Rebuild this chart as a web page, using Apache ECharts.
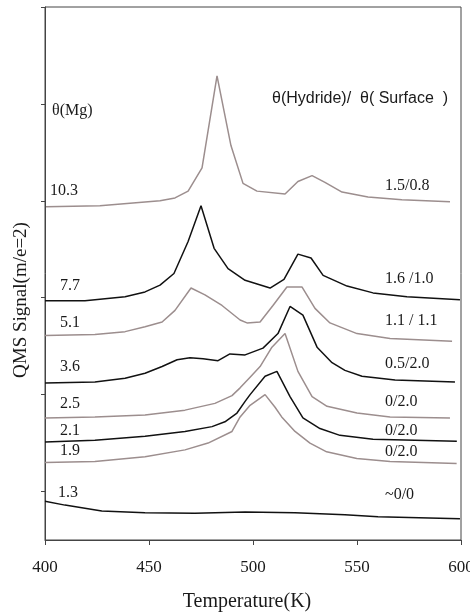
<!DOCTYPE html>
<html>
<head>
<meta charset="utf-8">
<script src="https://cdn.jsdelivr.net/npm/echarts@6/dist/echarts.min.js"></script>
<style>
  html, body { margin: 0; padding: 0; background: #fff; }
  #chart { width: 470px; height: 615px; }
</style>
</head>
<body>
<div id="chart"></div>
<script>
// Temperature axis ticks (K)
const temperatureTicks = [400, 450, 500, 550, 600];

// QMS m/e=2 desorption traces, [temperature K, stacked signal (a.u.)]
const traceMg10_3 = [[400.5,3.44],[426.4,3.45],[455.3,3.50],[462.5,3.53],[468.8,3.60],[475.5,3.84],[482.7,4.79],[489.4,4.07],[495.2,3.68],[501.9,3.60],[515.4,3.57],[521.6,3.70],[528.4,3.76],[534.6,3.69],[542.8,3.59],[555.3,3.54],[571.6,3.51],[594.7,3.49]];
const traceMg7_7 = [[400,2.47],[419.2,2.47],[438.5,2.51],[448.1,2.56],[455.3,2.63],[462,2.75],[468.8,3.08],[475,3.45],[481.3,3.01],[488,2.80],[496.2,2.68],[508.2,2.60],[514.9,2.69],[521.6,2.95],[527.9,2.91],[533.7,2.73],[545.2,2.62],[557.7,2.55],[574,2.51],[599.5,2.48]];
const traceMg5_1 = [[400,2.11],[424,2.12],[438.5,2.15],[448.1,2.20],[456.3,2.25],[462.5,2.37],[470.2,2.60],[476.9,2.53],[485.1,2.42],[493.8,2.27],[497.1,2.24],[503.4,2.25],[509.6,2.42],[516.3,2.61],[523.6,2.61],[529.8,2.39],[537,2.24],[550,2.13],[565.9,2.08],[595.7,2.05]];
const traceMg3_6 = [[400,1.62],[424,1.63],[438.5,1.67],[448.1,1.72],[456.3,1.79],[463.5,1.86],[469.7,1.88],[476,1.87],[483.2,1.85],[488.9,1.92],[496.2,1.91],[504.8,1.98],[512,2.13],[517.8,2.41],[524,2.32],[530.8,1.99],[538,1.83],[544.2,1.75],[552.4,1.69],[568.3,1.65],[597.1,1.63]];
const traceMg2_5 = [[400,1.26],[424,1.27],[448.1,1.29],[467.3,1.34],[481.7,1.41],[489.9,1.49],[493.8,1.57],[498.6,1.68],[503.4,1.79],[509.1,1.99],[515.4,2.13],[521.6,1.74],[528.4,1.48],[535.6,1.38],[550,1.31],[565.9,1.27],[594.7,1.26]];
const traceMg2_1 = [[400,1.01],[424,1.03],[448.1,1.07],[467.3,1.12],[480.3,1.17],[486.5,1.22],[492.3,1.31],[496.2,1.43],[498.6,1.50],[505.8,1.69],[511.5,1.74],[517.8,1.48],[524,1.26],[532.2,1.15],[541.8,1.08],[557.7,1.04],[598,1.02]];
const traceMg1_9 = [[400,0.80],[424,0.81],[448.1,0.86],[467.3,0.93],[478.4,1.00],[489.9,1.12],[493.8,1.27],[498.6,1.39],[505.8,1.50],[510.6,1.37],[513.8,1.27],[520.2,1.12],[527.4,1.00],[535.4,0.91],[549.9,0.84],[565.9,0.81],[597.9,0.79]];
const traceMg1_3 = [[400,0.40],[409.6,0.36],[427.3,0.30],[448.1,0.28],[472.1,0.275],[496.2,0.29],[520.2,0.28],[544.2,0.26],[560.1,0.24],[599.5,0.22]];

// Mg coverage for each trace (top to bottom) and hydride/surface coverage ratio
const mgCoverage = ['10.3', '7.7', '5.1', '3.6', '2.5', '2.1', '1.9', '1.3'];
const hydrideSurface = ['1.5/0.8', '1.6 /1.0', '1.1 / 1.1', '0.5/2.0', '0/2.0', '0/2.0', '0/2.0', '~0/0'];

const traces = [traceMg10_3, traceMg7_7, traceMg5_1, traceMg3_6, traceMg2_5, traceMg2_1, traceMg1_9, traceMg1_3];

const GRAY = '#9c8e8e';
const BLACK = '#111111';
const SERIF = '"Liberation Serif", "Times New Roman", serif';
const SANS = '"Liberation Sans", Arial, sans-serif';

// label placement (pixels): left coverage labels and right ratio labels
const leftLabelY = [192, 287, 324, 368, 405, 432, 452, 494];
const leftLabelX = [50, 60, 60, 60, 60, 60, 60, 58];
const rightLabelY = [187, 280, 322, 365, 403, 432, 453, 496];

const chart = echarts.init(document.getElementById('chart'), null, { renderer: 'canvas' });

const series = traces.map((d, i) => ({
  type: 'line',
  name: mgCoverage[i],
  data: d,
  symbol: 'none',
  smooth: false,
  silent: true,
  lineStyle: { width: 1.5, color: i % 2 === 0 ? GRAY : BLACK },
  z: 3
}));

const textEls = [];
mgCoverage.forEach((t, i) => {
  textEls.push({
    type: 'text', left: leftLabelX[i], top: leftLabelY[i] - 9,
    style: { text: t, font: '16px ' + SERIF, fill: '#1a1a1a' }
  });
});
hydrideSurface.forEach((t, i) => {
  textEls.push({
    type: 'text', left: 385, top: rightLabelY[i] - 9,
    style: { text: t, font: '16px ' + SERIF, fill: '#1a1a1a' }
  });
});
textEls.push({
  type: 'text', left: 52, top: 103,
  style: { text: 'θ(Mg)', font: '16px ' + SERIF, fill: '#1a1a1a' }
});
textEls.push({
  type: 'text', left: 272, top: 91,
  style: { text: 'θ(Hydride)/  θ( Surface  )', font: '16px ' + SANS, fill: '#1a1a1a' }
});
textEls.push({
  type: 'text', x: 247, y: 602,
  style: { text: 'Temperature(K)', font: '20px ' + SERIF, fill: '#1a1a1a', align: 'center', verticalAlign: 'middle' }
});
textEls.push({
  type: 'text', x: 21, y: 300, rotation: Math.PI / 2,
  style: { text: 'QMS Signal(m/e=2)', font: '19px ' + SERIF, fill: '#1a1a1a', align: 'center', verticalAlign: 'middle' }
});

chart.setOption({
  animation: false,
  backgroundColor: '#ffffff',
  grid: {
    left: 45, right: 9, top: 7, bottom: 75,
    outerBoundsMode: 'none',
    show: true, borderColor: '#444', borderWidth: 1
  },
  xAxis: {
    type: 'value', min: temperatureTicks[0], max: temperatureTicks[temperatureTicks.length - 1], interval: 50,
    axisLine: { lineStyle: { color: '#444', width: 1 } },
    axisTick: { inside: false, length: 5, lineStyle: { color: '#444' } },
    axisLabel: { fontFamily: SERIF, fontSize: 17, color: '#1a1a1a', margin: 19, hideOverlap: false },
    splitLine: { show: false }
  },
  yAxis: {
    type: 'value', min: 0, max: 5.5,
    axisLine: { show: true, lineStyle: { color: '#444', width: 1 } },
    axisTick: { show: true, inside: false, length: 4, customValues: [0.5, 1.5, 2.5, 3.5, 4.5, 5.5], lineStyle: { color: '#444' } },
    axisLabel: { show: false },
    splitLine: { show: false }
  },
  series: series,
  graphic: textEls
});
</script>
</body>
</html>
